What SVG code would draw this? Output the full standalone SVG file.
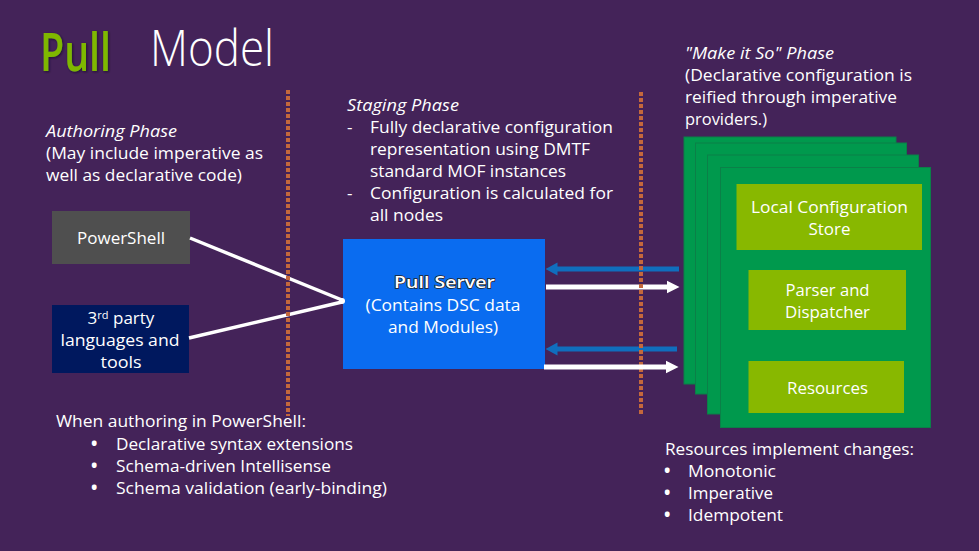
<svg xmlns="http://www.w3.org/2000/svg" width="979" height="551" viewBox="0 0 979 551">
<style>
text{font-family:"Open Sans","Noto Sans","Liberation Sans",sans-serif;font-size:17px;fill:#fff}
.c{text-anchor:middle}
.i{font-style:italic}
.b{font-weight:700}
.stack{fill:#00994d;stroke:#0b8048;stroke-width:1}
.inner{fill:#88b800}
.div{stroke:#c4683c;stroke-width:4;stroke-dasharray:4 2;fill:none}
.w{stroke:#fff;stroke-width:3.500;fill:none}
.wa{stroke:#fff;stroke-width:5;fill:none}
.ba{stroke:#106ebe;stroke-width:5;fill:none}
</style>
<defs>
<filter id="shadow" x="-10%" y="-10%" width="125%" height="125%"><feDropShadow dx="1" dy="1" stdDeviation="1" flood-color="#1c1028" flood-opacity="0.8"/></filter>
<marker id="mw" markerUnits="userSpaceOnUse" markerWidth="14" markerHeight="14" refX="0.500" refY="7" orient="auto"><path d="M0 0.500L13 7L0 13.500z" fill="#fff"/></marker>
<marker id="mb" markerUnits="userSpaceOnUse" markerWidth="12" markerHeight="14" refX="0.500" refY="7" orient="auto"><path d="M0 0.500L12 7L0 13.500z" fill="#106ebe"/></marker>
</defs>
<rect width="979" height="551" fill="#442359"/>
<g id="title">
<text x="40" y="71" filter="url(#shadow)" style="font-size:53px;fill:#7fb800;font-weight:600" textLength="71" lengthAdjust="spacingAndGlyphs">Pull</text>
<text x="150" y="65.500" style="font-size:50px;font-weight:300" textLength="124" lengthAdjust="spacingAndGlyphs">Model</text>
</g>
<g id="authoring-text">
<text x="46" y="137" class="i" textLength="131" lengthAdjust="spacingAndGlyphs">Authoring Phase</text>
<text x="46" y="159" textLength="217" lengthAdjust="spacingAndGlyphs">(May include imperative as</text>
<text x="46" y="181" textLength="196" lengthAdjust="spacingAndGlyphs">well as declarative code)</text>
</g>
<g id="staging-text">
<text x="347" y="111" class="i" textLength="112" lengthAdjust="spacingAndGlyphs">Staging Phase</text>
<text x="347" y="133">-</text><text x="370" y="133" textLength="243" lengthAdjust="spacingAndGlyphs">Fully declarative configuration</text>
<text x="370" y="155" textLength="220" lengthAdjust="spacingAndGlyphs">representation using DMTF</text>
<text x="370" y="177" textLength="196" lengthAdjust="spacingAndGlyphs">standard MOF instances</text>
<text x="347" y="199">-</text><text x="370" y="199" textLength="243" lengthAdjust="spacingAndGlyphs">Configuration is calculated for</text>
<text x="370" y="221" textLength="73" lengthAdjust="spacingAndGlyphs">all nodes</text>
</g>
<g id="makeitso-text">
<text x="685" y="59" class="i" textLength="149" lengthAdjust="spacingAndGlyphs">"Make it So" Phase</text>
<text x="685" y="81" textLength="227" lengthAdjust="spacingAndGlyphs">(Declarative configuration is</text>
<text x="685" y="103" textLength="212" lengthAdjust="spacingAndGlyphs">reified through imperative</text>
<text x="685" y="125" textLength="82" lengthAdjust="spacingAndGlyphs">providers.)</text>
</g>
<g id="powershell">
<rect x="52" y="211" width="138" height="53" fill="#4f4f4f"/>
<text x="121" y="244" class="c" textLength="88" lengthAdjust="spacingAndGlyphs">PowerShell</text>
</g>
<g id="third-party">
<rect x="52" y="305" width="137" height="68" fill="#00185e"/>
<text x="121" y="324" class="c">3<tspan dy="-5" style="font-size:11px">rd</tspan><tspan dy="5"> party</tspan></text>
<text x="120" y="346" class="c" textLength="119" lengthAdjust="spacingAndGlyphs">languages and</text>
<text x="121" y="368" class="c" textLength="41" lengthAdjust="spacingAndGlyphs">tools</text>
</g>
<g id="pull-server">
<rect x="343" y="239" width="202" height="130" fill="#0a6cf0"/>
<text x="444.500" y="288" class="c" style="font-weight:600;paint-order:stroke;stroke:#222;stroke-width:1.500" textLength="101" lengthAdjust="spacingAndGlyphs">Pull Server</text>
<text x="443" y="311" class="c" textLength="155" lengthAdjust="spacingAndGlyphs">(Contains DSC data</text>
<text x="443" y="333" class="c" textLength="110" lengthAdjust="spacingAndGlyphs">and Modules)</text>
</g>
<g id="node-stack">
<rect class="stack" x="684" y="137" width="212" height="247"/>
<rect class="stack" x="695.500" y="143" width="211" height="251"/>
<rect class="stack" x="707.500" y="155" width="211" height="259"/>
<rect class="stack" x="720.500" y="167.500" width="210" height="260"/>
</g>
<g id="local-store">
<rect class="inner" x="736.500" y="184" width="185.500" height="66"/>
<text x="829.500" y="213" class="c" textLength="157" lengthAdjust="spacingAndGlyphs">Local Configuration</text>
<text x="829.500" y="235" class="c" textLength="42" lengthAdjust="spacingAndGlyphs">Store</text>
</g>
<g id="parser">
<rect class="inner" x="748.500" y="270" width="157.500" height="60"/>
<text x="827.500" y="296" class="c" textLength="84" lengthAdjust="spacingAndGlyphs">Parser and</text>
<text x="827.500" y="318" class="c" textLength="85" lengthAdjust="spacingAndGlyphs">Dispatcher</text>
</g>
<g id="resources">
<rect class="inner" x="748.500" y="361" width="155.500" height="52"/>
<text x="827.500" y="394" class="c" textLength="81" lengthAdjust="spacingAndGlyphs">Resources</text>
</g>
<g id="connectors">
<path class="w" d="M190 238L342 300"/>
<path class="w" d="M189 338L342 302"/>
<circle cx="342" cy="301" r="3" fill="#fff"/>
<path class="ba" d="M679 269H557" marker-end="url(#mb)"/>
<path class="wa" d="M546 287H667" marker-end="url(#mw)"/>
<path class="ba" d="M677 349H557" marker-end="url(#mb)"/>
</g>
<g id="dividers">
<path class="div" d="M288 90V416"/>
<path class="div" d="M641 92V415"/>
</g>
<g id="connectors-top">
<path class="wa" d="M544 367H666" marker-end="url(#mw)"/>
</g>
<g id="authoring-notes">
<text x="56" y="427" textLength="250" lengthAdjust="spacingAndGlyphs">When authoring in PowerShell:</text>
<text x="91" y="450" class="b">•</text><text x="116" y="450" textLength="237" lengthAdjust="spacingAndGlyphs">Declarative syntax extensions</text>
<text x="91" y="472" class="b">•</text><text x="116" y="472" textLength="215" lengthAdjust="spacingAndGlyphs">Schema-driven Intellisense</text>
<text x="91" y="494" class="b">•</text><text x="116" y="494" textLength="271" lengthAdjust="spacingAndGlyphs">Schema validation (early-binding)</text>
</g>
<g id="resource-notes">
<text x="665" y="455" textLength="249" lengthAdjust="spacingAndGlyphs">Resources implement changes:</text>
<text x="664" y="477" class="b">•</text><text x="688" y="477" textLength="88" lengthAdjust="spacingAndGlyphs">Monotonic</text>
<text x="664" y="499" class="b">•</text><text x="688" y="499" textLength="85" lengthAdjust="spacingAndGlyphs">Imperative</text>
<text x="664" y="521" class="b">•</text><text x="688" y="521" textLength="95" lengthAdjust="spacingAndGlyphs">Idempotent</text>
</g>
</svg>
